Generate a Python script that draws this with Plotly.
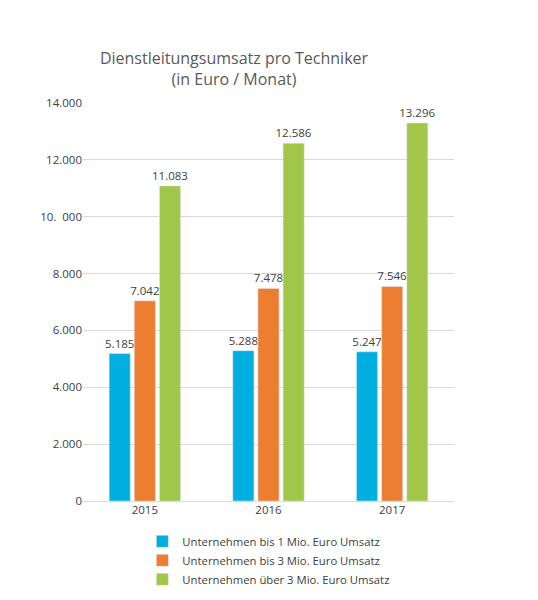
import plotly.graph_objects as go

# Daten aus der Grafik
jahre = ['2015', '2016', '2017']
bis_1_mio = [5185, 5288, 5247]
bis_3_mio = [7042, 7478, 7546]
ueber_3_mio = [11083, 12586, 13296]

serien = ['Unternehmen bis 1 Mio. Euro Umsatz',
          'Unternehmen bis 3 Mio. Euro Umsatz',
          'Unternehmen über 3 Mio. Euro Umsatz']
farben = ['#00AEE0', '#ED7D31', '#A2C64A']

tick_werte = [0, 2000, 4000, 6000, 8000, 10000, 12000, 14000]
tick_texte = ['0', '2.000', '4.000', '6.000', '8.000', '10.  000', '12.000', '14.000']


def fmt(v):
    return f'{v:,}'.replace(',', '.')


fig = go.Figure()
for name, werte, farbe in zip(serien, [bis_1_mio, bis_3_mio, ueber_3_mio], farben):
    fig.add_trace(go.Bar(
        x=jahre, y=werte, name=name,
        marker_color=farbe,
        text=[fmt(v) for v in werte],
        textposition='outside',
        constraintext='none',
        textangle=0,
        textfont=dict(size=11.5, color='#404040'),
        cliponaxis=False,
    ))

# Seite hat 8px body-Rand, daher Ränder entsprechend verschoben
fig.update_layout(
    width=538, height=600,
    margin=dict(l=75, r=92, t=95, b=107),
    paper_bgcolor='white',
    plot_bgcolor='white',
    font=dict(family='Open Sans, sans-serif', color='#404040', size=11.5),
    title=dict(
        text='Dienstleitungsumsatz pro Techniker<br>(in Euro / Monat)',
        x=226 / 538, xanchor='center',
        y=1 - 56 / 600, yanchor='top',
        font=dict(size=16, color='#595959'),
    ),
    barmode='group',
    bargap=0.39,
    bargroupgap=0.16,
    showlegend=True,
    legend=dict(
        x=0.16, y=-0.065, xanchor='left', yanchor='top',
        font=dict(size=11.3, color='#404040'),
        tracegroupgap=0,
    ),
)

fig.update_yaxes(
    range=[0, 14000],
    tickvals=tick_werte,
    ticktext=tick_texte,
    showgrid=True, gridcolor='#D9D9D9', gridwidth=1,
    zeroline=True, zerolinecolor='#D9D9D9', zerolinewidth=1,
    showline=False,
    ticks='',
    tickfont=dict(size=11.5, color='#404040'),
)
fig.update_xaxes(
    showgrid=False,
    showline=False,
    ticks='',
    tickfont=dict(size=11.5, color='#404040'),
)

fig.write_html('out.html')
